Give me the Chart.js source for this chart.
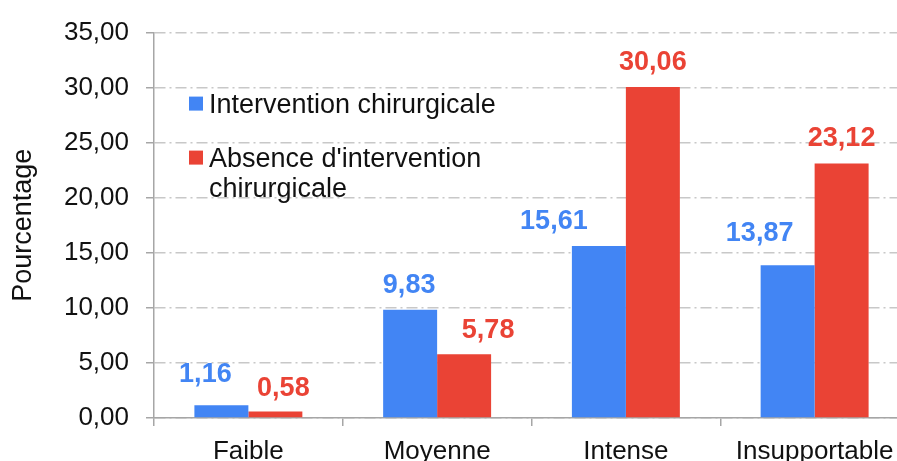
<!DOCTYPE html>
<html>
<head>
<meta charset="utf-8">
<script src="https://cdn.jsdelivr.net/npm/chart.js@4/dist/chart.umd.min.js"></script>
<style>
  html, body { margin: 0; padding: 0; background: #fff; overflow: hidden; }
  #wrap { width: 909px; height: 461px; position: relative; }
</style>
</head>
<body>
<div id="wrap"><canvas id="c"></canvas></div>
<script>
const categories = ['Faible', 'Moyenne', 'Intense', 'Insupportable'];
const seriesNames = ['Intervention chirurgicale', "Absence d'intervention chirurgicale"];
const interventionValues = [1.16, 9.83, 15.61, 13.87];
const absenceValues = [0.58, 5.78, 30.06, 23.12];
const yTicks = [0, 5, 10, 15, 20, 25, 30, 35];
const yAxisTitle = 'Pourcentage';

const BLUE = '#4285f4';
const RED = '#ea4335';
const FONT = "'Liberation Sans', Arial, sans-serif";
const fmt = v => Number(v).toFixed(2).replace('.', ',');

// Manual placement nudges of the value labels (pixels, relative to the bar top centre), as in the original
const labelNudge = [
  { dx: [-16, -1, -45, -28], gap: [23, 17, 17, 24] },
  { dx: [8, 24, 0, 0],       gap: [16, 16, 17, 17] }
];

const valueLabels = {
  id: 'valueLabels',
  afterDatasetsDraw(chart) {
    const ctx = chart.ctx;
    ctx.save();
    ctx.font = 'bold 27px ' + FONT;
    ctx.textAlign = 'center';
    ctx.textBaseline = 'alphabetic';
    chart.data.datasets.forEach((ds, di) => {
      const meta = chart.getDatasetMeta(di);
      const n = labelNudge[di];
      ctx.fillStyle = ds.backgroundColor;
      meta.data.forEach((bar, i) => {
        ctx.fillText(fmt(ds.data[i]), bar.x + n.dx[i], bar.y - n.gap[i]);
      });
    });
    ctx.restore();
  }
};

const innerLegend = {
  id: 'innerLegend',
  afterDraw(chart) {
    const ctx = chart.ctx;
    const area = chart.chartArea;
    const x0 = area.left + 35;
    let baseline = area.top + 80;
    const lineH = 30;
    const maxW = 300;
    ctx.save();
    ctx.font = '27px ' + FONT;
    ctx.textAlign = 'left';
    ctx.textBaseline = 'alphabetic';
    chart.data.datasets.forEach(ds => {
      const words = ds.label.split(' ');
      const lines = [];
      let cur = '';
      words.forEach(w => {
        const t = cur ? cur + ' ' + w : w;
        if (ctx.measureText(t).width > maxW && cur) { lines.push(cur); cur = w; }
        else cur = t;
      });
      if (cur) lines.push(cur);
      ctx.fillStyle = ds.backgroundColor;
      ctx.fillRect(x0, baseline - 16, 14, 14);
      ctx.fillStyle = '#111';
      lines.forEach((ln, k) => ctx.fillText(ln, x0 + 20, baseline + k * lineH));
      baseline += 54;
    });
    ctx.restore();
  }
};

new Chart(document.getElementById('c'), {
  type: 'bar',
  data: {
    labels: categories,
    datasets: [
      { label: seriesNames[0], data: interventionValues, backgroundColor: BLUE },
      { label: seriesNames[1], data: absenceValues, backgroundColor: RED }
    ]
  },
  options: {
    responsive: true,
    maintainAspectRatio: false,
    animation: false,
    events: [],
    layout: { padding: { top: 28, right: 0, left: 0, bottom: 0 } },
    datasets: { bar: { categoryPercentage: 0.572, barPercentage: 1.0 } },
    plugins: { legend: { display: false }, tooltip: { enabled: false } },
    scales: {
      x: {
        offset: true,
        grid: { display: true, drawOnChartArea: false, offset: true, tickLength: 8,
                color: '#a6a6a6', tickColor: '#a6a6a6', tickWidth: 1.5, lineWidth: 1.5 },
        border: { display: true, color: '#a6a6a6', width: 1.5 },
        ticks: { font: { family: FONT, size: 26 }, color: '#111', padding: 10, maxRotation: 0, autoSkip: false },
        afterFit(s) { s.height = 43; }
      },
      y: {
        min: 0, max: 35,
        afterBuildTicks(s) { s.ticks = yTicks.map(v => ({ value: v })); },
        grid: { color: '#c8c8c8', lineWidth: 1.5, tickLength: 8, tickColor: '#a6a6a6', tickWidth: 1.5 },
        border: { display: true, color: '#a6a6a6', width: 1.5, dash: [11, 4, 2, 4] },
        ticks: { font: { family: FONT, size: 26 }, color: '#111', padding: 17, callback: v => fmt(v) },
        title: { display: true, text: yAxisTitle, font: { family: FONT, size: 27 }, color: '#111', padding: { top: 7, bottom: 0 } },
        afterFit(s) { s.width = 154; }
      }
    }
  },
  plugins: [valueLabels, innerLegend]
});
</script>
</body>
</html>
